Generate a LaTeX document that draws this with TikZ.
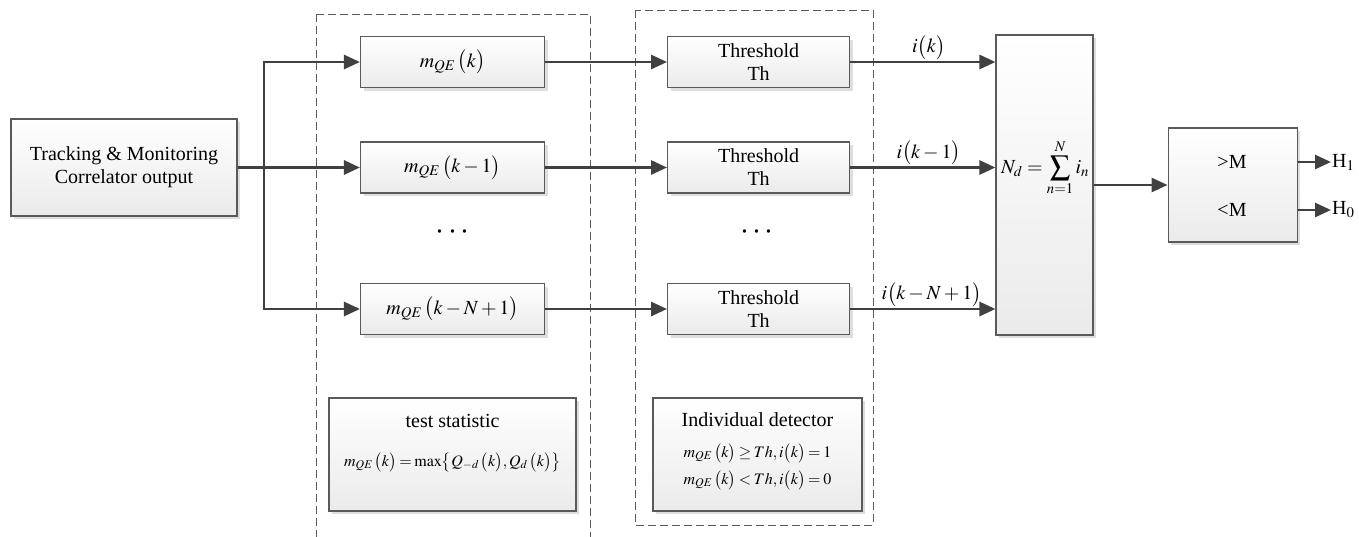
\documentclass[tikz,border=0pt]{standalone}
\usepackage{mathptmx}
\usepackage{fontspec}
\setmainfont{Liberation Serif}
\usetikzlibrary{arrows.meta,positioning,shadows}
\definecolor{edge}{HTML}{5A5A5A}
\definecolor{wire}{HTML}{404040}
\newcommand{\tightmath}{\thickmuskip=3mu\relax\medmuskip=2mu\relax}

\begin{document}
\begin{tikzpicture}[x=1pt,y=-1pt,
  box/.style={rectangle,draw=edge,line width=1.1pt,top color=white,bottom color=black!8,
    drop shadow={shadow xshift=3pt,shadow yshift=-3pt,fill=black!13,opacity=1},
    align=center,inner sep=0pt,font=\fontsize{20}{23}\selectfont},
  stat/.style={box,minimum width=184pt,minimum height=51pt},
  arr/.style={-{Triangle[length=16pt,width=14pt]},line width=2.8pt,draw=wire},
  grp/.style={draw=edge,line width=1pt,dash pattern=on 8pt off 4pt},
  txt/.style={inner sep=1pt,font=\fontsize{20}{23}\selectfont},
  small/.style={inner sep=0pt,font=\fontsize{16}{19}\selectfont},
  dots/.style={inner sep=0pt,font=\fontsize{32}{36}\selectfont},
  node distance=122pt]
  \useasboundingbox (0,0) rectangle (1359,536);
  % dashed groups
  \draw[grp] (316,14) rectangle (590,560);
  \draw[grp] (635,10) rectangle (873,525);

  \node[box,minimum width=226pt,minimum height=97pt] (src) at (124,167.5) {Tracking \& Monitoring\\Correlator output};
  \coordinate (bus) at (264,167.5);

  % test statistic column
  \node[stat] (m1) at (452.5,62) {$m_{QE}\,\bigl(k\bigr)$};
  \node[stat] (m2) at (452.5,167.5) {$m_{QE}\,\bigl(k-1\bigr)$};
  \node[stat] (m3) at (452.5,309) {$m_{QE}\,\bigl(k-N+1\bigr)$};
  \node[dots] (mdots) at (452.5,233) {$\cdots$};

  % threshold column
  \node[stat,minimum width=182pt,right=of m1] (th1) {Threshold\\Th};
  \node[stat,minimum width=182pt,right=of m2] (th2) {Threshold\\Th};
  \node[stat,minimum width=182pt,right=of m3] (th3) {Threshold\\Th};
  \node[dots] (tdots) at (757,233) {$\cdots$};

  \node[box,minimum width=97pt,minimum height=300pt] (nd) at (1044.5,185) {};
  \node[txt] (ndtxt) at (1045,168) {$\displaystyle N_d=\sum_{n=1}^{N} i_n$};
  \node[box,minimum width=129pt,minimum height=114pt,right=74pt of nd] (dec) {};
  \node[txt] (gt) at (1232,162) {>M};
  \node[txt] (lt) at (1232,210) {<M};
  \node[txt,anchor=west] (h1) at (1331,162) {H$_1$};
  \node[txt,anchor=west] (h0) at (1331,210) {H$_0$};

  % notes
  \node[box,minimum width=247pt,minimum height=113pt] (tsbox) at (452.5,454.5) {};
  \node[txt] (ts1) at (452.5,421) {test statistic};
  \node[small] (ts2) at (452.5,462) {$\tightmath m_{QE}\,\bigl(k\bigr)=\max\bigl\{Q_{-d}\,\bigl(k\bigr),Q_d\,\bigl(k\bigr)\bigr\}$};
  \node[box,minimum width=209pt,minimum height=113pt] (idbox) at (757.5,454.5) {};
  \node[txt] (id1) at (757.5,420) {Individual detector};
  \node[small] (id2) at (757.5,453) {$\tightmath m_{QE}\,\bigl(k\bigr)\ge Th,i\bigl(k\bigr)=1$};
  \node[small] (id3) at (757.5,480) {$\tightmath m_{QE}\,\bigl(k\bigr)<Th,i\bigl(k\bigr)=0$};

  \draw[arr] (src.east) -- (m2.west);
  \draw[arr] (bus) |- (m1.west);
  \draw[arr] (bus) |- (m3.west);
  \draw[arr] (m1) -- (th1);
  \draw[arr] (m2) -- (th2);
  \draw[arr] (m3) -- (th3);
  \draw[arr] (th1.east) -- (th1.east -| nd.west) node[pos=0.54,above,txt] (i1) {$i\bigl(k\bigr)$};
  \draw[arr] (th2.east) -- (th2.east -| nd.west) node[pos=0.54,above,txt] (i2) {$i\bigl(k-1\bigr)$};
  \draw[arr] (th3.east) -- (th3.east -| nd.west) node[pos=0.56,above,txt] (i3) {$i\bigl(k-N+1\bigr)$};
  \draw[arr] (nd) -- (dec);
  \draw[arr] (dec.east |- h1) -- (h1.west);
  \draw[arr] (dec.east |- h0) -- (h0.west);
\end{tikzpicture}
\end{document}
